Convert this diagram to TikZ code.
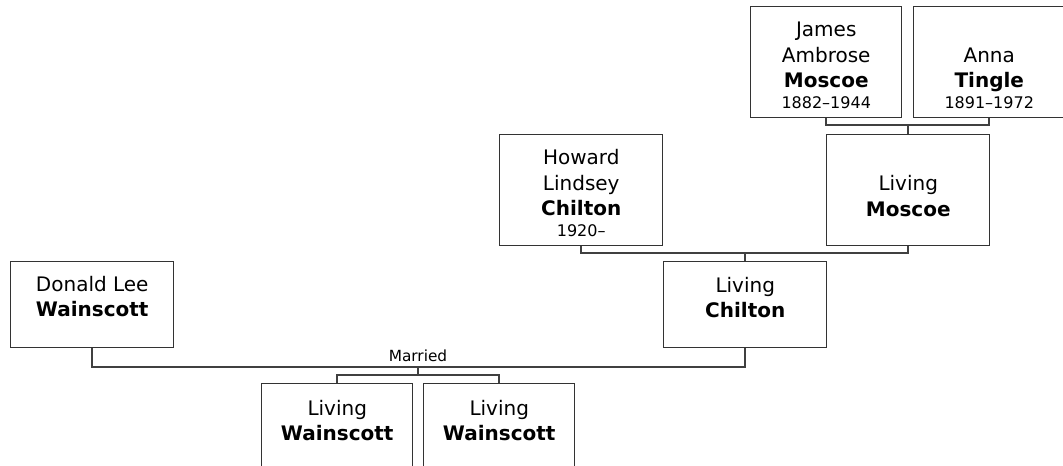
\documentclass[tikz,border=0pt]{standalone}
\usepackage{fontspec}
\setmainfont{DejaVu Sans}
\usetikzlibrary{positioning}
\newcommand{\lifespan}[1]{{\fontsize{12}{15}\selectfont #1}}

\begin{document}
\begin{tikzpicture}[x=0.75pt, y=-0.75pt,
  box/.style={draw=black!80, line width=1.1pt, anchor=north west,
              minimum width=113.25pt, minimum height=83.25pt, inner sep=0pt},
  wide/.style={box, minimum width=122.25pt},
  short/.style={minimum height=64.5pt},
  txt/.style={align=center, inner sep=0pt, anchor=north,
              font=\fontsize{15}{19}\selectfont},
  link/.style={draw=black!75, line width=1.2pt}
]
\useasboundingbox (0,0) rectangle (1063,466);
\fill[white] (0,0) rectangle (1063,466);
\clip (0,0) rectangle (1063,466);
% Grandparents
\node[box] (jam)  at (750,6) {};
\node[box] (anna) at (913,6) {};
\node[txt, below=12pt of jam.north]  {James\\Ambrose\\\textbf{Moscoe}\\[-3.25pt]\lifespan{1882–1944}};
\node[txt, below=31pt of anna.north] {Anna\\\textbf{Tingle}\\[-3.25pt]\lifespan{1891–1972}};
% Parents of Chilton
\node[wide] (how) at (499,134) {};
\node[wide] (mos) at (826,134) {};
\node[txt, below=11.5pt of how.north] {Howard\\Lindsey\\\textbf{Chilton}\\[-3.25pt]\lifespan{1920–}};
\node[txt, below=31pt of mos.north]   {Living\\\textbf{Moscoe}};
% Couple
\node[wide, short] (don)  at (10,261)  {};
\node[wide, short] (chil) at (663,261) {};
\node[txt, below=11pt of don.north]  {Donald Lee\\\textbf{Wainscott}};
\node[txt, below=12pt of chil.north] {Living\\\textbf{Chilton}};
% Children
\node[box] (kid1) at (261,383) {};
\node[box] (kid2) at (423,383) {};
\node[txt, below=12.5pt of kid1.north] {Living\\\textbf{Wainscott}};
\node[txt, below=12.5pt of kid2.north] {Living\\\textbf{Wainscott}};
% Links
\coordinate (p1) at (907,125);
\coordinate (p2) at (744,253);
\coordinate (p3) at (418,367);
\coordinate (p4) at (418,375);
\draw[link] (jam.south) |- (p1) -| (anna.south);
\draw[link] (p1) -| (mos.north);
\draw[link] (how.south) |- (p2) -| (mos.south);
\draw[link] (p2) -| (chil.north);
\draw[link] (don.south) |- (p3) -| (chil.south);
\draw[link] (p3) -- (p4);
\draw[link] (kid1.north) |- (p4) -| (kid2.north);
\node[inner sep=0pt, anchor=south, font=\fontsize{11.5}{14}\selectfont,
      above=3.5pt of p3] (mar) {Married};
\end{tikzpicture}
\end{document}
